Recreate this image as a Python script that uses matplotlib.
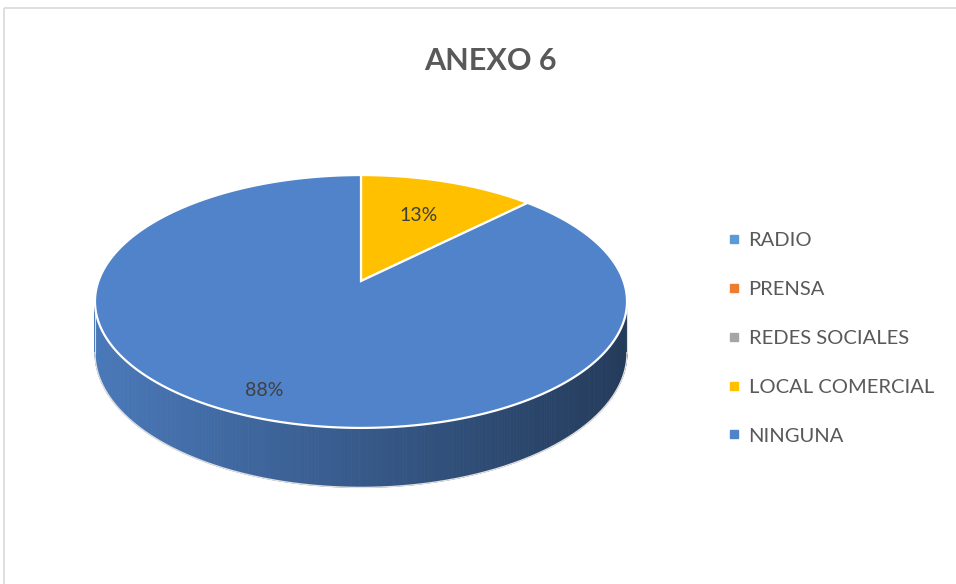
import numpy as np
import matplotlib
matplotlib.use("Agg")
import matplotlib.pyplot as plt
from matplotlib.patches import Polygon, Rectangle
from matplotlib.lines import Line2D
import matplotlib.colors as mcolors

plt.rcParams['font.family'] = ['Lato', 'DejaVu Sans']

# ---- data ----
title = "ANEXO 6"
categories = ["RADIO", "PRENSA", "REDES SOCIALES", "LOCAL COMERCIAL", "NINGUNA"]
values = [0, 0, 0, 12.5, 87.5]
label_text = ["", "", "", "13%", "88%"]
colors = ["#5B9BD5", "#ED7D31", "#A5A5A5", "#FFC000", "#5083C9"]

W, H = 956, 584
fig = plt.figure(figsize=(W / 100, H / 100), dpi=100)
ax = fig.add_axes([0, 0, 1, 1])
ax.set_xlim(0, W)
ax.set_ylim(H, 0)
ax.axis("off")

# chart frame
ax.add_patch(Rectangle((4, 8), W, H, fill=False, edgecolor="#D9D9D9", lw=1.2, zorder=0))

# ---- 3D pie geometry (perspective) ----
cx, cy = 361, 281
S = 262.5
c = 0.469     # vertical squash
k = 0.162     # perspective
h = 0.19      # thickness


def proj(t, r=1.0, z=0.0):
    s = np.sin(t)
    den = 1 + k * r * s
    x = cx + S * r * np.cos(t) / den
    y = cy + S * (-c * r * s + z) / den
    return x, y


total = float(sum(values))
fracs = [v / total for v in values]
bounds = []
cum = 0.0
for f in fracs:
    a1 = np.pi / 2 - 2 * np.pi * cum
    a2 = np.pi / 2 - 2 * np.pi * (cum + f)
    bounds.append((a2, a1))
    cum += f


def slice_of(t):
    tt = (np.pi / 2 - t) % (2 * np.pi) / (2 * np.pi)
    cum = 0.0
    for i, f in enumerate(fracs):
        if cum <= tt < cum + f:
            return i
        cum += f
    return len(fracs) - 1


# side (front visible part)
a = np.arcsin(k)
ts = np.linspace(np.pi + a, 2 * np.pi - a, 240)
xs_left, _ = proj(ts[0])
xs_right, _ = proj(ts[-1])
for i in range(len(ts) - 1):
    t0, t1 = ts[i], ts[i + 1]
    x0t, y0t = proj(t0)
    x1t, y1t = proj(t1)
    x0b, y0b = proj(t0, z=h)
    x1b, y1b = proj(t1, z=h)
    idx = slice_of(0.5 * (t0 + t1))
    base = np.array(mcolors.to_rgb(colors[idx]))
    u = ((x0t + x1t) / 2 - xs_left) / (xs_right - xs_left)
    fac = 0.92 - 0.47 * u
    col = np.clip(base * fac, 0, 1)
    ax.add_patch(Polygon([(x0t, y0t), (x1t, y1t), (x1b, y1b), (x0b, y0b)],
                         closed=True, facecolor=col, edgecolor=col, lw=0.6, zorder=2))
# light outline of side
bx, by = proj(ts, z=h)
ax.plot(bx, by, color="#E0E0E0", lw=1.0, zorder=3)
for tedge in (ts[0], ts[-1]):
    p0 = proj(tedge)
    p1 = proj(tedge, z=h)
    ax.plot([p0[0], p1[0]], [p0[1], p1[1]], color="#E0E0E0", lw=0.8, zorder=3)

# top face wedges
for i, (t_lo, t_hi) in enumerate(bounds):
    if fracs[i] <= 0:
        continue
    tt = np.linspace(t_lo, t_hi, 300)
    px, py = proj(tt)
    pts = [(cx, cy)] + list(zip(px, py))
    ax.add_patch(Polygon(pts, closed=True, facecolor=colors[i], edgecolor="white",
                         lw=1.6, joinstyle="miter", zorder=4))

# labels
for i, (t_lo, t_hi) in enumerate(bounds):
    if fracs[i] <= 0 or not label_text[i]:
        continue
    tm = 0.5 * (t_lo + t_hi)
    r = 0.63 if fracs[i] < 0.5 else 0.84
    lx_, ly_ = proj(tm, r=r)
    ax.text(lx_, ly_, label_text[i], ha="center", va="center", fontsize=14,
            color="#404040", zorder=6)

# title
ax.text(490, 61, title, ha="center", va="center", fontsize=22, fontweight="bold",
        color="#595959")

# legend
handles = [Line2D([0], [0], marker="s", linestyle="none", markersize=6,
                  markerfacecolor=col, markeredgecolor=col) for col in colors]
leg = ax.legend(handles, categories, loc="center left", bbox_to_anchor=(0.763, 0.421),
                frameon=False, fontsize=14.5, labelspacing=1.58, handlelength=0.5,
                handletextpad=0.45, borderpad=0, borderaxespad=0,
                labelcolor="#595959")

fig.savefig("out.png", dpi=100)
